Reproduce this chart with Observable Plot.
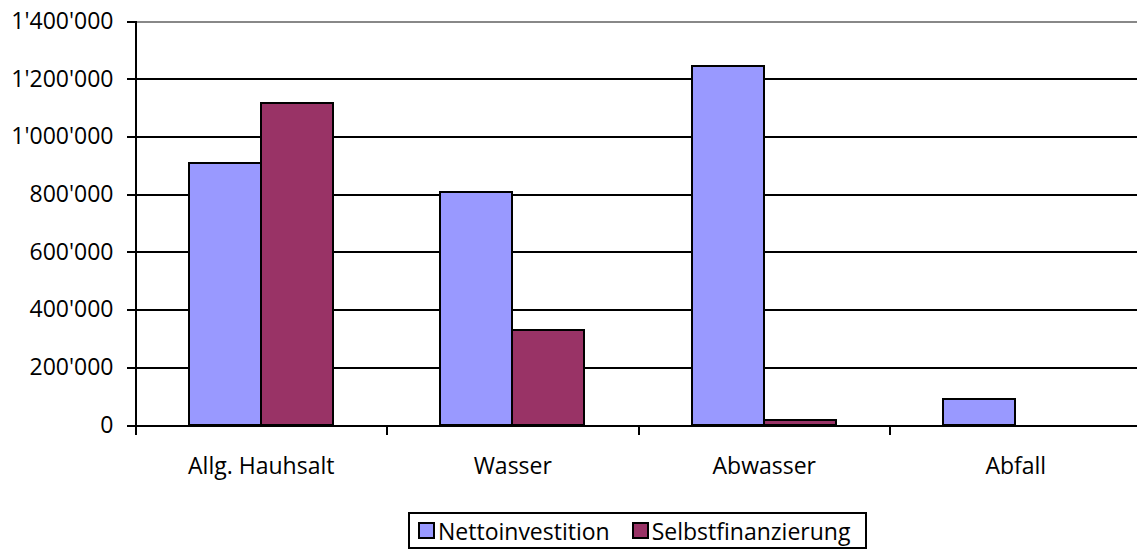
<!DOCTYPE html>
<html>
<head>
<meta charset="utf-8">
<script src="https://cdn.jsdelivr.net/npm/d3@7"></script>
<script src="https://cdn.jsdelivr.net/npm/@observablehq/plot@0.6"></script>
<style>
  html, body { margin: 0; padding: 0; background: #fff; overflow: hidden; }
  #wrap { position: relative; width: 1137px; height: 553px; overflow: hidden; }
  .legend {
    position: absolute; left: 408px; top: 512px; width: 459px; height: 37px;
    box-sizing: border-box; border: 2px solid #000; display: flex; align-items: center;
    padding-left: 8px; font-family: "Open Sans", sans-serif; font-size: 23px; color: #000;
    background: #fff;
  }
  .legend .item { display: flex; align-items: center; margin-right: 22px; white-space: nowrap; }
  .legend .sw { width: 13px; height: 13px; border: 2px solid #000; margin-right: 3px; }
</style>
</head>
<body>
<div id="wrap"></div>
<script>
const categories = ["Allg. Hauhsalt", "Wasser", "Abwasser", "Abfall"];
const series = ["Nettoinvestition", "Selbstfinanzierung"];
const nettoinvestition = [909000, 809000, 1244000, 90000];
const selbstfinanzierung = [1115000, 330000, 16000, 0];
const yTicks = [0, 200000, 400000, 600000, 800000, 1000000, 1200000, 1400000];
const colors = ["#9999FF", "#993366"];

const data = [];
categories.forEach((c, i) => {
  data.push({category: c, series: series[0], value: nettoinvestition[i]});
  data.push({category: c, series: series[1], value: selbstfinanzierung[i]});
});

const fmt = d3.formatLocale({decimal: ".", thousands: "'", grouping: [3], currency: ["", ""]}).format(",d");

const plot = Plot.plot({
  width: 1141,
  height: 490,
  marginLeft: 135,
  marginRight: 0,
  marginTop: 21,
  marginBottom: 65,
  style: {fontFamily: "'Open Sans', sans-serif", fontSize: "23px", color: "#000", background: "#fff", maxWidth: "none"},
  fx: {domain: categories, padding: 0, round: false, label: null, tickSize: 0, tickPadding: 32},
  x: {domain: series, paddingInner: 0, paddingOuter: 0.7465, round: false, axis: null},
  y: {domain: [0, 1400000], axis: null},
  color: {domain: series, range: colors},
  marks: [
    Plot.ruleY(yTicks.filter(d => d > 0 && d < 1400000), {stroke: "#000", strokeWidth: 2, shapeRendering: "crispEdges"}),
    Plot.ruleY([1400000], {stroke: "#888", strokeWidth: 2, shapeRendering: "crispEdges"}),
    Plot.barY(data, {fx: "category", x: "series", y: "value", fill: "series", stroke: "#000", strokeWidth: 2, shapeRendering: "crispEdges"}),
    Plot.ruleY([0], {stroke: "#000", strokeWidth: 2, shapeRendering: "crispEdges"}),
    Plot.frame({anchor: "left", stroke: "#000", strokeWidth: 2, insetBottom: -8, facetAnchor: "left", shapeRendering: "crispEdges"}),
    Plot.frame({anchor: "left", stroke: "#000", strokeWidth: 2, insetTop: 404, insetBottom: -8, shapeRendering: "crispEdges"}),
    Plot.axisY({ticks: yTicks, tickFormat: fmt, tickSize: 8, tickPadding: 14, strokeWidth: 2, label: null, fontSize: 23, shapeRendering: "crispEdges"})
  ]
});

const wrap = document.getElementById("wrap");
wrap.appendChild(plot);

const legend = document.createElement("div");
legend.className = "legend";
series.forEach((s, i) => {
  const item = document.createElement("div");
  item.className = "item";
  const sw = document.createElement("div");
  sw.className = "sw";
  sw.style.background = colors[i];
  const t = document.createElement("span");
  t.textContent = s;
  item.appendChild(sw);
  item.appendChild(t);
  legend.appendChild(item);
});
wrap.appendChild(legend);
</script>
</body>
</html>
